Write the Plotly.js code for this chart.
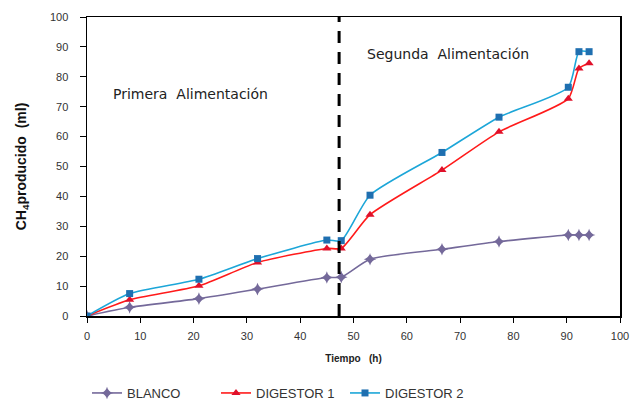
<!DOCTYPE html>
<html>
<head>
<meta charset="utf-8">
<script src="https://cdn.plot.ly/plotly-3.0.1.min.js"></script>
<style>
  html, body { margin: 0; padding: 0; background: #ffffff; }
  #chart { width: 633px; height: 403px; }
</style>
</head>
<body>
<div id="chart"></div>
<script>
// Tiempo (h) for each sampling point
const tiempo = [0, 8, 21, 32, 45, 47.7, 53.1, 66.6, 77.3, 90.3, 92.3, 94.2];

// CH4 producido (ml) per reactor
const blanco    = [0, 2.9, 5.8, 9.0, 12.9, 13.0, 19.0, 22.3, 24.9, 27.1, 27.1, 27.1];
const digestor1 = [0, 5.4, 10.1, 17.9, 22.6, 22.6, 33.9, 48.8, 61.6, 72.7, 82.8, 84.5];
const digestor2 = [0, 7.5, 12.3, 19.2, 25.4, 25.2, 40.4, 54.7, 66.5, 76.5, 88.4, 88.4];

// Change of feed
const cambioAlimentacion = 47.3;

const seriesNames = ['BLANCO', 'DIGESTOR 1', 'DIGESTOR 2'];

const traces = [
  {
    x: tiempo, y: blanco, name: seriesNames[0], type: 'scatter', mode: 'lines+markers',
    line: { color: '#74699a', width: 1.6, shape: 'spline', smoothing: 0.6 },
    marker: { symbol: 'star-diamond', size: 9, color: '#74699a' }
  },
  {
    x: tiempo, y: digestor1, name: seriesNames[1], type: 'scatter', mode: 'lines+markers',
    line: { color: '#ff1a1a', width: 1.6, shape: 'spline', smoothing: 0.6 },
    marker: { symbol: 'triangle-up', size: 8, color: '#e0102a' }
  },
  {
    x: tiempo, y: digestor2, name: seriesNames[2], type: 'scatter', mode: 'lines+markers',
    line: { color: '#1ca6d8', width: 1.6, shape: 'spline', smoothing: 0.6 },
    marker: { symbol: 'square', size: 7, color: '#1f6fb0' }
  }
];

const layout = {
  width: 633, height: 403,
  margin: { l: 87, r: 13, t: 17, b: 87, autoexpand: false },
  paper_bgcolor: '#ffffff', plot_bgcolor: '#ffffff',
  font: { family: 'Liberation Sans, Arial, sans-serif', size: 11, color: '#333333' },
  showlegend: true,
  legend: {
    orientation: 'h', x: 0, xanchor: 'left', y: -0.2575, yanchor: 'middle',
    font: { size: 13, color: '#333333' },
    entrywidth: 84, entrywidthmode: 'pixels'
  },
  xaxis: {
    range: [0, 100], dtick: 10, tick0: 0,
    showgrid: false, zeroline: false,
    showline: true, linecolor: '#000000', linewidth: 1.5, mirror: true,
    ticks: 'outside', ticklen: 5, tickcolor: '#000000', ticklabelstandoff: 4,
    tickfont: { size: 11, color: '#333333' },
    title: { text: '<b>Tiempo   (h)</b>', font: { size: 10, color: '#222222' }, standoff: 14 }
  },
  yaxis: {
    range: [0, 100], dtick: 10, tick0: 0,
    showgrid: false, zeroline: false,
    showline: true, linecolor: '#000000', linewidth: 1.5, mirror: true,
    ticks: 'outside', ticklen: 6, tickcolor: '#000000', ticklabelstandoff: 9,
    tickfont: { size: 11, color: '#333333' },
    title: { text: '<b>CH<sub>4</sub>producido  (ml)</b>', font: { size: 14, color: '#111111' }, standoff: 20 }
  },
  shapes: [
    {
      type: 'line', xref: 'x', yref: 'paper',
      x0: cambioAlimentacion, x1: cambioAlimentacion, y0: 0, y1: 1,
      line: { color: '#000000', width: 3, dash: '12px,9px' }
    }
  ],
  annotations: [
    {
      x: 19.4, y: 74.3, xref: 'x', yref: 'y', text: 'Primera  Alimentación',
      showarrow: false, font: { family: 'DejaVu Sans, Verdana, sans-serif', size: 14, color: '#222222' }
    },
    {
      x: 67.8, y: 87.6, xref: 'x', yref: 'y', text: 'Segunda  Alimentación',
      showarrow: false, font: { family: 'DejaVu Sans, Verdana, sans-serif', size: 14, color: '#222222' }
    }
  ]
};

Plotly.newPlot('chart', traces, layout, { displayModeBar: false, staticPlot: true });
</script>
</body>
</html>
